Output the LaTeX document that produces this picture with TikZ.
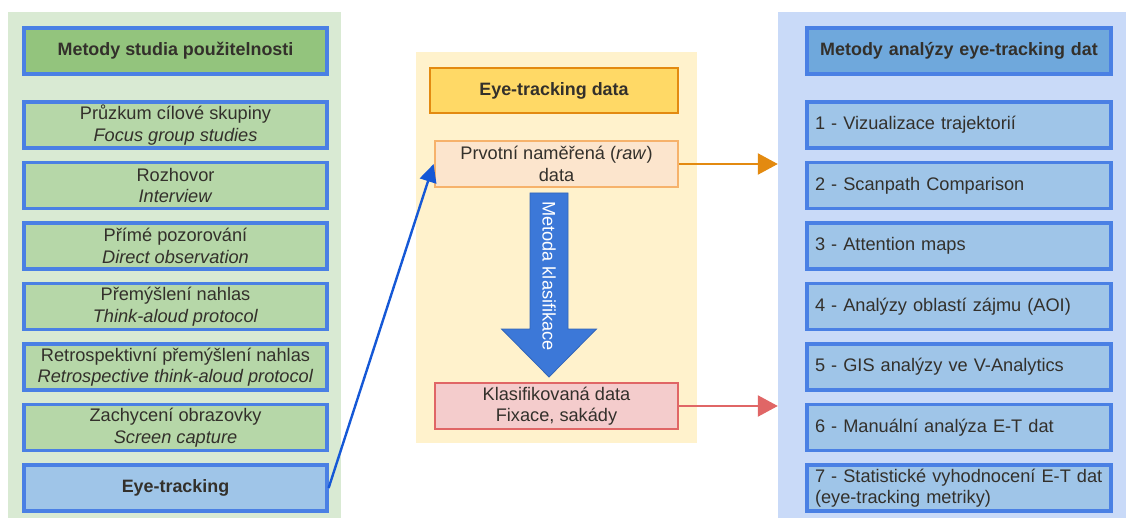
\documentclass[tikz,border=0pt]{standalone}
\usepackage{fontspec}
\setmainfont{Liberation Sans}
\usepackage{tikz}
\usetikzlibrary{arrows.meta,positioning,calc}
\definecolor{bgGreen}{HTML}{D9EAD3}
\definecolor{headGreen}{HTML}{93C47D}
\definecolor{itemGreen}{HTML}{B6D7A8}
\definecolor{bgYellow}{HTML}{FFF2CC}
\definecolor{headYellow}{HTML}{FFD966}
\definecolor{rawFill}{HTML}{FCE5CD}
\definecolor{rawLine}{HTML}{F6B26B}
\definecolor{klasFill}{HTML}{F4CCCC}
\definecolor{klasLine}{HTML}{E06666}
\definecolor{bgBlue}{HTML}{C9DAF8}
\definecolor{headBlue}{HTML}{6FA8DC}
\definecolor{itemBlue}{HTML}{9FC5E8}
\definecolor{boxLine}{HTML}{4A80E4}
\definecolor{darkOrange}{HTML}{E38A10}
\definecolor{linkBlue}{HTML}{1558D6}
\definecolor{arrowBlue}{HTML}{3C78D8}
\definecolor{txt}{HTML}{33302B}
\newcommand{\boxfont}{\fontsize{18.2}{21.5}\selectfont}
\newcommand{\headfont}{\fontsize{17.9}{21.5}\selectfont\bfseries}

\begin{document}
\begin{tikzpicture}[x=1pt, y=-1pt,
  panel/.style={rectangle, inner sep=0pt},
  box/.style={draw, line width=3.2pt, inner sep=0pt, text=txt,
              minimum height=46pt, align=center, font=\boxfont},
  methodbox/.style={box, draw=boxLine, fill=itemGreen, minimum width=303pt},
  anlbox/.style={box, draw=boxLine, fill=itemBlue, minimum width=304pt,
                 text width=288pt, align=left, inner xsep=8pt},
  databox/.style={box, line width=2.8pt, minimum width=243pt},
  arr/.style={line width=2.4pt, -{Triangle[length=20pt, width=21pt]}},
  link/.style={line width=2.4pt, linkBlue, -{Triangle[length=18pt, width=17pt]}}
]
\useasboundingbox (0,0) rectangle (1126,518);

% three background panels
\node[panel, fill=bgGreen, minimum width=333pt, minimum height=506pt]
  (usepanel) at (174.5,265) {};
\node[panel, fill=bgYellow, minimum width=281pt, minimum height=391pt]
  (datapanel) at (556.5,247.5) {};
\node[panel, fill=bgBlue, minimum width=348pt, minimum height=506pt]
  (anlpanel) at (952,265) {};

% usability methods
\node[methodbox, fill=headGreen, font=\headfont]
  (usehead) at (175.5,51) {Metody studia použitelnosti};
\node[methodbox] (focus) at (175.5,125)
  {Průzkum cílové skupiny\\\textit{Focus group studies}};
\node[methodbox] (interview) at (175.5,185.5)
  {Rozhovor\\\textit{Interview}};
\node[methodbox] (observe) at (175.5,246)
  {Přímé pozorování\\\textit{Direct observation}};
\node[methodbox] (thinkaloud) at (175.5,306.5)
  {Přemýšlení nahlas\\\textit{Think-aloud protocol}};
\node[methodbox] (retro) at (175.5,367)
  {Retrospektivní přemýšlení nahlas\\\textit{Retrospective think-aloud protocol}};
\node[methodbox] (screen) at (175.5,427.5)
  {Zachycení obrazovky\\\textit{Screen capture}};
\node[methodbox, fill=itemBlue, font=\headfont]
  (eyet) at (175.5,488) {Eye-tracking};

% eye-tracking data
\node[databox, draw=darkOrange, fill=headYellow, minimum width=248pt,
      minimum height=45pt, font=\headfont]
  (datahead) at (554,90.5) {Eye-tracking data};
\node[databox, draw=rawLine, fill=rawFill] (raw) at (556.5,164)
  {Prvotní naměřená (\textit{raw})\\data};
\node[databox, draw=klasLine, fill=klasFill] (klas) at (556.5,406)
  {Klasifikovaná data\\Fixace, sakády};

% classification arrow
\filldraw[fill=arrowBlue, draw=arrowBlue!85!black, line width=0.8pt]
  (530,193) -- (568,193) -- (568,329) -- (596.5,329) -- (549,377)
  -- (501.5,329) -- (530,329) -- cycle;
\node[rotate=-90, text=white, font=\boxfont]
  (method) at (549,276) {Metoda klasifikace};

% analysis methods
\node[anlbox, fill=headBlue, align=center, font=\headfont]
  (anlhead) at (959,51) {Metody analýzy eye-tracking dat};
\node[anlbox] (a1) at (959,125) {1 - Vizualizace trajektorií};
\node[anlbox] (a2) at (959,185.5) {2 - Scanpath Comparison};
\node[anlbox] (a3) at (959,246) {3 - Attention maps};
\node[anlbox] (a4) at (959,306.5) {4 - Analýzy oblastí zájmu (AOI)};
\node[anlbox] (a5) at (959,367) {5 - GIS analýzy ve V-Analytics};
\node[anlbox] (a6) at (959,427.5) {6 - Manuální analýza E-T dat};
\node[anlbox] (a7) at (959,488)
  {7 - Statistické vyhodnocení E-T dat\\(eye-tracking metriky)};

% connections
\draw[link] (eyet.east) -- (raw.west);
\draw[arr, darkOrange] (raw.east) -- (raw.east -| anlpanel.west);
\draw[arr, klasLine] (klas.east) -- (klas.east -| anlpanel.west);
\end{tikzpicture}
\end{document}
